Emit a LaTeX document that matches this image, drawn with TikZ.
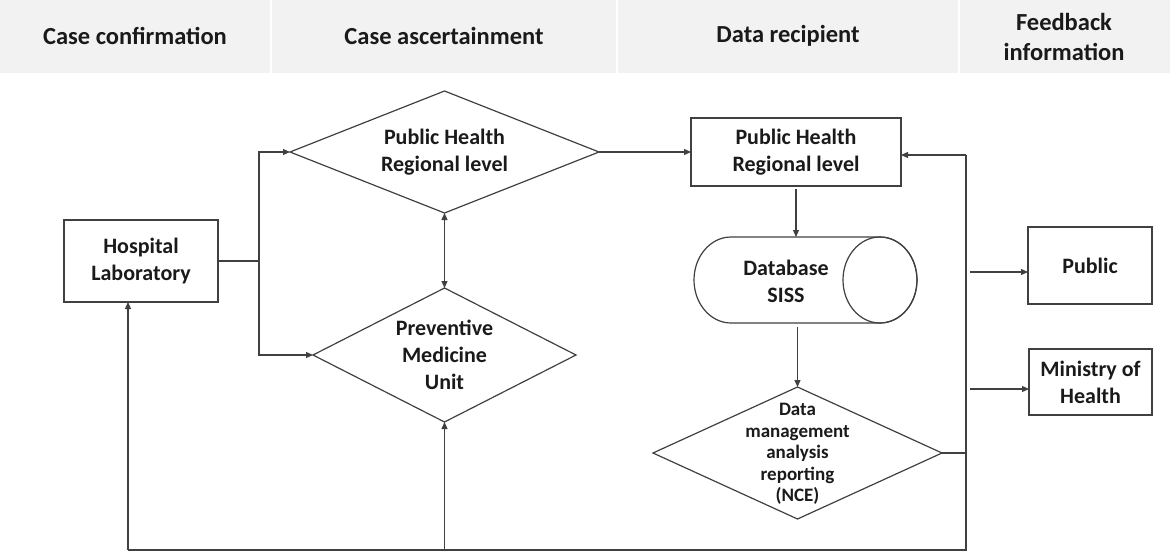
\documentclass[tikz,border=0pt]{standalone}
\usepackage{fontspec}
\setmainfont{Carlito}
\usetikzlibrary{arrows.meta,shapes.geometric,calc}
\definecolor{hdr}{HTML}{F2F2F2}
\definecolor{ln}{HTML}{404040}
\definecolor{txt}{HTML}{1A1A1A}
\begin{document}
\begin{tikzpicture}[x=1pt,y=-1pt,
  line/.style={draw=ln, line width=1.2pt},
  arr/.style={line, -{Triangle[length=7pt,width=6pt]}},
  dbl/.style={line, {Triangle[length=7pt,width=6pt]}-{Triangle[length=7pt,width=6pt]}},
  box/.style={draw=ln, line width=1.2pt, rectangle, inner sep=0pt, outer sep=0pt, align=center, font=\bfseries\fontsize{22}{27}\selectfont, text=txt},
  dia/.style={box, diamond, aspect=2},
  lbl/.style={align=center, inner sep=0pt, text=txt},
  hd/.style={font=\bfseries\fontsize{24.5}{30}\selectfont, text=txt, align=center}
]
\useasboundingbox (0,0) rectangle (1170,554);
% header band
\fill[hdr] (0,0) rectangle (1170,73);
\fill[white] (269.5,0) rectangle (272,73);
\fill[white] (615.5,0) rectangle (618,73);
\fill[white] (957.5,0) rectangle (960,73);
\node[hd] (h1) at (135,36) {Case confirmation};
\node[hd] (h2) at (444,36) {Case ascertainment};
\node[hd] (h3) at (788,36) {Data recipient};
\node[hd] (h4) at (1064,37) {Feedback\\information};

% nodes
\node[box, minimum width=154pt, minimum height=82pt] (hosp) at (141,261) {Hospital\\Laboratory};
\node[dia, minimum width=309pt, minimum height=122pt] (phd) at (444.5,152) {Public Health\\Regional level};
\node[dia, minimum width=263pt, minimum height=134pt] (pmu) at (444.5,355) {Preventive\\Medicine\\Unit};
\node[box, minimum width=210pt, minimum height=68pt] (phb) at (796,152) {Public Health\\Regional level};

% cylinder
\node[minimum width=223pt, minimum height=86pt, inner sep=0pt, outer sep=0pt] (db) at (805.5,280) {};
\draw[line, fill=white] (731,237) -- (880,237)
  arc[start angle=90, end angle=-90, x radius=37pt, y radius=43pt]
  -- (731,323)
  arc[start angle=270, end angle=90, x radius=37pt, y radius=43pt] -- cycle;
\draw[line] (880,280) ellipse [x radius=37pt, y radius=43pt];
\node[lbl, font=\bfseries\fontsize{22}{27}\selectfont] (dbt) at (786,281) {Database\\SISS};

\node[dia, minimum width=289pt, minimum height=132pt] (dd) at (797.5,453) {};
\node[lbl, font=\bfseries\fontsize{19}{21.5}\selectfont] (ddt) at (797.5,454) {Data\\management\\analysis\\reporting\\(NCE)};

\node[box, minimum width=124pt, minimum height=77pt] (pub) at (1090,265.5) {Public};
\node[box, minimum width=123pt, minimum height=66pt] (moh) at (1090.5,382) {Ministry of\\Health};

% junctions
\coordinate (jx) at (259,261);
\coordinate (ftop) at (966,155);
\coordinate (fx) at (966,453);
\coordinate (fbot) at (966,550);
\coordinate (bl) at (128,550);
\coordinate (p1) at (970,272);
\coordinate (m1) at (970,389);

% connectors
\draw[line] (hosp.east) -- (jx);
\draw[arr] (jx) |- (phd.west);
\draw[arr] (jx) |- (pmu.west);
\draw[dbl] (phd.south) -- (pmu.north);
\draw[arr] (phd.east) -- (phb.west);
\draw[arr, shorten <=3pt] (phb.south) -- (phb.south |- db.north);
\draw[arr, shorten <=4pt] (dd.north |- db.south) -- (dd.north);
\draw[line] (dd.east) -- (fx);
\draw[line] (ftop) -- (fbot) -- (bl);
\draw[arr] (ftop) -- (ftop -| phb.east);
\draw[arr] (p1) -- (p1 -| pub.west);
\draw[arr] (m1) -- (m1 -| moh.west);
\draw[arr] (bl) -- (hosp.south -| bl);
\draw[arr] (pmu.south |- fbot) -- (pmu.south);
\end{tikzpicture}
\end{document}
